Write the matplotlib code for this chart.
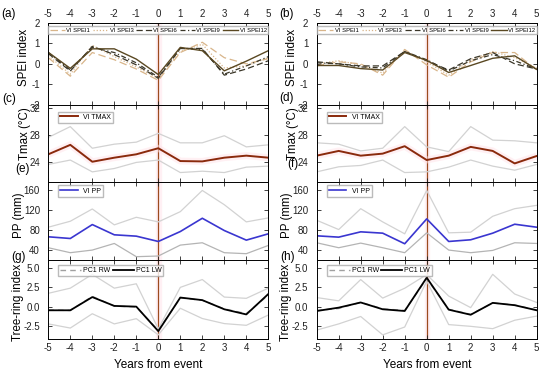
import numpy as np
import matplotlib.pyplot as plt

plt.rcParams['font.family'] = ['Liberation Sans', 'DejaVu Sans']
plt.rcParams['axes.unicode_minus'] = False

years = [-5, -4, -3, -2, -1, 0, 1, 2, 3, 4, 5]

# SPEI, left (a) and right (b)
spei1_a = [0.3, -0.6, 0.55, 0.2, -0.25, -0.8, 0.55, 1.05, 0.3, 0.0, 0.25]
spei3_a = [0.4, -0.5, 0.9, 0.35, -0.15, -0.7, 0.6, 0.95, -0.2, -0.1, 0.3]
spei6_a = [0.5, -0.35, 0.85, 0.45, -0.05, -0.7, 0.75, 0.75, -0.55, -0.25, 0.15]
spei9_a = [0.55, -0.3, 0.8, 0.55, 0.05, -0.65, 0.75, 0.7, -0.5, -0.1, 0.35]
spei12_a = [0.56, -0.22, 0.73, 0.73, 0.23, -0.52, 0.8, 0.64, -0.34, 0.13, 0.64]

spei1_b = [-0.1, 0.1, 0.0, -0.55, 0.7, -0.05, -0.65, 0.1, 0.55, 0.55, -0.3]
spei3_b = [0.0, 0.15, -0.05, -0.45, 0.65, 0.1, -0.55, 0.2, 0.6, 0.3, -0.2]
spei6_b = [0.1, 0.0, -0.1, -0.1, 0.6, 0.15, -0.3, 0.25, 0.55, 0.0, -0.25]
spei9_b = [0.05, 0.0, -0.15, -0.2, 0.6, 0.2, -0.35, 0.15, 0.45, 0.15, -0.25]
spei12_b = [-0.08, -0.08, -0.23, -0.3, 0.55, 0.17, -0.42, -0.08, 0.27, 0.39, -0.27]

# Tmax (c, d): mean, upper and lower bounds
tmax_c = [25.1, 26.5, 24.0, 24.6, 25.1, 26.0, 24.1, 24.05, 24.6, 24.9, 24.6]
tmax_c_hi = [27.6, 29.2, 26.0, 26.6, 26.9, 28.2, 26.8, 26.8, 27.85, 26.2, 26.5]
tmax_c_lo = [23.6, 24.25, 22.5, 23.0, 23.9, 24.25, 22.4, 22.6, 22.4, 23.2, 23.35]
tmax_d = [24.9, 25.6, 24.9, 25.2, 26.3, 24.25, 24.9, 26.2, 25.6, 23.75, 24.85]
tmax_d_hi = [26.8, 26.6, 25.6, 26.0, 29.2, 26.2, 25.5, 29.2, 27.2, 27.1, 26.8]
tmax_d_lo = [22.5, 23.25, 23.45, 24.25, 22.4, 22.5, 23.2, 24.25, 23.35, 22.75, 23.6]

# PP (e, f)
pp_e = [66.7, 63.3, 91.3, 70.7, 68.0, 57.3, 77.3, 104.0, 79.3, 60.0, 72.7]
pp_e_hi = [86.0, 98.0, 122.7, 90.7, 106.0, 96.7, 117.3, 160.0, 131.3, 96.7, 104.7]
pp_e_lo = [44.7, 34.7, 40.0, 53.3, 26.7, 28.0, 50.0, 54.7, 34.7, 32.7, 49.3]
pp_f = [68.7, 66.0, 76.7, 74.0, 52.7, 102.7, 57.3, 60.7, 74.0, 92.0, 86.0]
pp_f_hi = [100.0, 81.3, 123.3, 96.7, 72.7, 160.0, 74.7, 76.0, 108.0, 123.3, 130.0]
pp_f_lo = [54.7, 44.7, 54.0, 44.7, 34.7, 74.7, 40.0, 34.7, 39.3, 54.7, 53.3]

# Tree-ring index (g, h)
lw_g = [-0.43, -0.43, 1.26, 0.13, 0.04, -3.1, 1.2, 0.87, -0.3, -0.96, 1.65]
rw_g = [-0.4, -0.45, 1.35, 0.1, 0.0, -3.0, 1.15, 0.85, -0.25, -0.85, 1.5]
ring_g_hi = [1.74, 2.4, 4.17, 2.4, 2.96, -2.8, 2.5, 3.5, 1.26, 1.1, 2.4]
ring_g_lo = [-2.17, -2.7, -0.87, -2.17, -1.5, -3.57, -0.17, -1.48, -2.13, -2.35, -1.04]
lw_h = [-0.52, -0.09, 0.57, -0.3, -0.52, 3.74, -0.35, -1.0, 0.52, 0.22, -0.43]
rw_h = [-0.45, -0.2, 0.6, -0.25, -0.45, 3.6, -0.3, -0.95, 0.5, 0.25, -0.4]
ring_h_hi = [1.2, 0.78, 3.5, 1.13, 2.39, 4.13, 1.39, -0.09, 4.17, 1.65, 0.57]
ring_h_lo = [-2.96, -2.17, -1.22, -3.57, -2.57, 3.3, -2.26, -2.48, -2.78, -1.7, -1.17]

fig = plt.figure(figsize=(5.5, 3.71), dpi=100)

lefts = [48.3 / 550, 316.7 / 550]
width = 220 / 550
rows = [(22.7, 105), (105, 182), (182, 260), (260, 339)]
axes = []
for r, (top, bot) in enumerate(rows):
    row = []
    for c in range(2):
        ax = fig.add_axes([lefts[c], 1 - bot / 371, width, (bot - top) / 371])
        row.append(ax)
    axes.append(row)

grey = '#d2d2d2'
light_tan = '#d8b58a'
vline_col = '#9c4a1e'

for r in range(4):
    for c in range(2):
        ax = axes[r][c]
        ax.axvspan(-0.1, 0.12, color='#fff0f4', zorder=0)
        ax.axvline(0, color=vline_col, lw=0.9, zorder=1)
        ax.set_xlim(-5, 5)
        ax.set_xticks(years)
        ax.tick_params(direction='in', top=True, right=True, length=3, width=0.6,
                       labelsize=7, colors='#222222',
                       labeltop=(r == 0), labelbottom=(r == 3))
        ax.tick_params(axis='x', pad=3)
        ax.tick_params(axis='y', pad=6)
        for s in ax.spines.values():
            s.set_linewidth(0.7)

# SPEI panels
spei_sets = [(spei1_a, spei3_a, spei6_a, spei9_a, spei12_a),
             (spei1_b, spei3_b, spei6_b, spei9_b, spei12_b)]
spei_names = ['VI SPEI1', 'VI SPEI3', 'VI SPEI6', 'VI SPEI9', 'VI SPEI12']
spei_styles = [(light_tan, (0, (6, 3))), (light_tan, (0, (1, 1.5))),
               ('#3a3628', (0, (5, 2.5))), ('#3a3628', (0, (4, 2, 1, 2))),
               ('#5a4822', '-')]
for c in range(2):
    ax = axes[0][c]
    for vals, name, (col, ls) in zip(spei_sets[c], spei_names, spei_styles):
        ax.plot(years, vals, color=col, ls=ls, lw=1.0 if ls == '-' else 0.9, label=name)
    ax.set_ylim(-2, 2)
    ax.set_yticks([-2, -1, 0, 1, 2])
    ax.legend(loc='upper center', ncol=5, fontsize=4.2, frameon=True, handlelength=2.6,
              columnspacing=0.5, handletextpad=0.25, borderpad=0.25,
              bbox_to_anchor=(0.5, 0.99), fancybox=False, edgecolor='#aaaaaa')

# Tmax panels
tmax_sets = [(tmax_c, tmax_c_hi, tmax_c_lo), (tmax_d, tmax_d_hi, tmax_d_lo)]
for c in range(2):
    ax = axes[1][c]
    mean, hi, lo = tmax_sets[c]
    ax.plot(years, hi, color=grey, lw=0.9)
    ax.plot(years, lo, color=grey, lw=0.9)
    ax.plot(years, mean, color='#ffe2e8', lw=5, alpha=0.5, solid_capstyle='butt')
    ax.plot(years, mean, color='#8a2a0c', lw=1.4, label='VI TMAX')
    ax.set_ylim(21, 32.4)
    ax.set_yticks([24, 28, 32])
    ax.legend(handles=[ax.lines[-1]], loc='upper left', fontsize=5, handlelength=2.5,
              fancybox=False, edgecolor='#aaaaaa', borderpad=0.3,
              bbox_to_anchor=(0.03, 0.96))

# PP panels
pp_sets = [(pp_e, pp_e_hi, pp_e_lo), (pp_f, pp_f_hi, pp_f_lo)]
for c in range(2):
    ax = axes[2][c]
    mean, hi, lo = pp_sets[c]
    ax.plot(years, hi, color=grey, lw=0.9)
    ax.plot(years, lo, color='#b4b4b4', lw=0.9)
    ax.plot(years, mean, color='#3a36d0', lw=1.2, label='VI PP')
    ax.set_ylim(20, 177)
    ax.set_yticks([40, 80, 120, 160])
    ax.legend(handles=[ax.lines[-1]], loc='upper left', fontsize=5, handlelength=2.5,
              fancybox=False, edgecolor='#aaaaaa', borderpad=0.3,
              bbox_to_anchor=(0.03, 1.0))

# Tree-ring panels
ring_sets = [(rw_g, lw_g, ring_g_hi, ring_g_lo), (rw_h, lw_h, ring_h_hi, ring_h_lo)]
for c in range(2):
    ax = axes[3][c]
    rw, lw, hi, lo = ring_sets[c]
    ax.plot(years, hi, color=grey, lw=0.9)
    ax.plot(years, lo, color=grey, lw=0.9)
    l1, = ax.plot(years, rw, color='#a0a0a0', lw=1.0, ls=(0, (4, 3)), label='PC1 RW')
    l2, = ax.plot(years, lw, color='black', lw=1.3, label='PC1 LW')
    ax.set_ylim(-4.1, 6)
    ax.set_yticks([-2.5, 0, 2.5, 5.0])
    ax.set_yticklabels(['-2.5', '0.0', '2.5', '5.0'])
    ax.legend(handles=[l1, l2], loc='upper left', ncol=2, fontsize=5, handlelength=3,
              columnspacing=0.3, handletextpad=0.3, fancybox=False, edgecolor='#aaaaaa',
              borderpad=0.3, bbox_to_anchor=(0.03, 0.98))
    ax.set_xlabel('Years from event', fontsize=8.5, labelpad=4)

ylabels = ['SPEI index', 'Tmax (°C)', 'PP (mm)', 'Tree-ring index']
label_x = [-0.083, -0.079, -0.107, -0.112]
label_y = [0.58, 0.63, 0.58, 0.46]
for r in range(4):
    for c in range(2):
        axes[r][c].set_ylabel(ylabels[r], fontsize=8.3)
        axes[r][c].yaxis.set_label_coords(label_x[r], label_y[r])

panel_tags = [('(a)', 9, 14), ('(c)', 9, 99), ('(e)', 23, 169), ('(g)', 19, 257),
              ('(b)', 287, 14), ('(d)', 287, 98), ('(f)', 293, 164), ('(h)', 288, 257)]
for tag, px, py in panel_tags:
    fig.text(px / 550, 1 - py / 371, tag, fontsize=8.5, ha='center', va='center')

fig.savefig('out.png', dpi=100)
